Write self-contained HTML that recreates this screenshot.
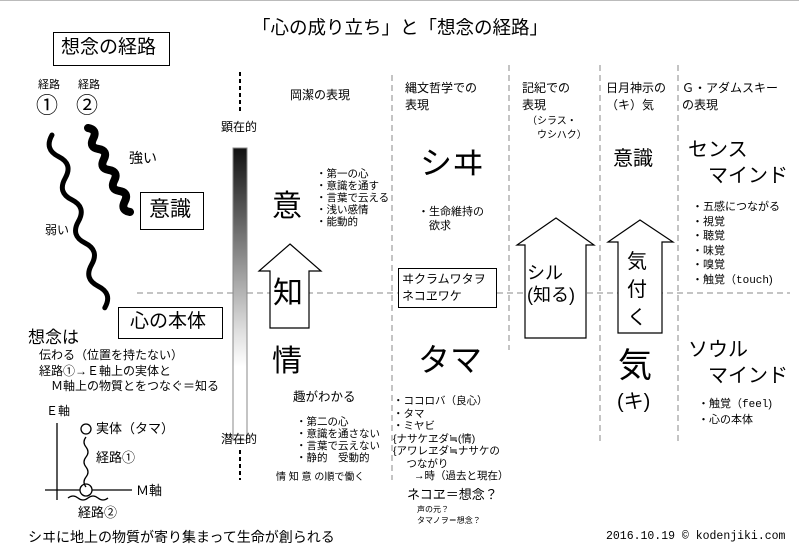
<!DOCTYPE html>
<html><head><meta charset="utf-8"><style>
body{margin:0;width:799px;height:557px;background:#fff;position:relative;overflow:hidden;font-family:"Liberation Sans","Noto Sans CJK JP",sans-serif;color:#000}
.t{position:absolute;white-space:nowrap;line-height:1.25}
.box{position:absolute;border:1px solid #000;background:#fff}
.m{font-family:"Liberation Mono","Noto Sans CJK JP",monospace}
</style></head><body>
<svg width="799" height="557" style="position:absolute;left:0;top:0">
<line x1="0" y1="0.5" x2="799" y2="0.5" stroke="#bbb"/>
<defs><linearGradient id="g" x1="0" y1="0" x2="0" y2="1"><stop offset="0" stop-color="#111"/><stop offset="0.62" stop-color="#ddd"/><stop offset="0.75" stop-color="#fff"/><stop offset="1" stop-color="#fff"/></linearGradient></defs>
<g stroke="#888" stroke-dasharray="6,4" stroke-width="1">
<line x1="137" y1="293" x2="790" y2="293"/>
<line x1="392" y1="75" x2="392" y2="480"/>
<line x1="509" y1="65" x2="509" y2="350"/>
<line x1="600" y1="65" x2="600" y2="445"/>
<line x1="678" y1="65" x2="678" y2="445"/>
</g>
<g stroke="#000" stroke-width="2" stroke-dasharray="4,3"><line x1="240" y1="72" x2="240" y2="112"/><line x1="240" y1="450" x2="240" y2="480"/></g>
<rect x="233" y="148" width="14" height="292" fill="url(#g)" stroke="#888"/>
<path d="M52,135 Q43.9,149.3 58.6,156.6 T65.2,178.2 T71.8,199.8 T78.4,221.4 T85,243 T91.6,264.6 T98.2,286.2 T104.8,307.8" fill="none" stroke="#000" stroke-width="5" stroke-linecap="round"/>
<path d="M88,128 Q97.7,129.7 93.25,138.5 T98.5,149 T103.75,159.5 T109,170 T114.25,180.5 T119.5,191 T124.75,201.5 T130,212" fill="none" stroke="#000" stroke-width="8" stroke-linecap="round"/>
<g fill="#fff" stroke="#000" stroke-width="1.2">
<polygon points="290,244 321,271 309,271 309,328 270,328 270,271 259,271"/>
<polygon points="556,218 594,245 586,245 586,338 525,338 525,245 517,245"/>
<polygon points="640,220 673,242 662,242 662,333 618,333 618,242 608,242"/>
</g>
<g stroke="#000" stroke-width="1.3" fill="none">
<line x1="57" y1="423" x2="57" y2="500"/>
<line x1="45" y1="490" x2="132" y2="490"/>
<circle cx="86" cy="490" r="6" fill="#fff"/>
<circle cx="86" cy="429" r="5" fill="#fff"/>
<path d="M86,437 q-4,5 0,10 t0,10 t0,10 t0,10 t0,10"/>
<path d="M68,498 q5,-4 10,0 t10,0 t10,0 t10,0"/>
</g>
</svg>
<div class="t" style="left:252px;top:16px;font-size:18.5px">「心の成り立ち」と「想念の経路」</div>
<div class="box" style="left:53px;top:32px;width:115px;height:32px"></div>
<div class="t" style="left:61px;top:36px;font-size:19px">想念の経路</div>
<div class="t" style="left:38px;top:79px;font-size:11px">経路</div>
<div class="t" style="left:78px;top:79px;font-size:11px">経路</div>
<div class="t" style="left:36px;top:92px;font-size:22px">①</div>
<div class="t" style="left:76px;top:92px;font-size:22px">②</div>
<div class="t" style="left:129px;top:150px;font-size:14px">強い</div>
<div class="t" style="left:45px;top:223px;font-size:12px">弱い</div>
<div class="box" style="left:140px;top:192px;width:62px;height:36px"></div>
<div class="t" style="left:149px;top:197px;font-size:21px">意識</div>
<div class="box" style="left:118px;top:307px;width:103px;height:30px"></div>
<div class="t" style="left:130px;top:310px;font-size:19px">心の本体</div>
<div class="t" style="left:28px;top:327px;font-size:17px">想念は</div>
<div class="t" style="left:39px;top:348px;font-size:12px">伝わる（位置を持たない）</div>
<div class="t" style="left:39px;top:364px;font-size:12px">経路①→Ｅ軸上の実体と</div>
<div class="t" style="left:51px;top:379px;font-size:12px">Ｍ軸上の物質とをつなぐ＝知る</div>
<div class="t" style="left:46px;top:404px;font-size:12px">Ｅ軸</div>
<div class="t" style="left:96px;top:421px;font-size:13px">実体（タマ）</div>
<div class="t" style="left:96px;top:450px;font-size:13px">経路①</div>
<div class="t" style="left:136px;top:483px;font-size:13px">Ｍ軸</div>
<div class="t" style="left:78px;top:505px;font-size:13px">経路②</div>
<div class="t" style="left:28px;top:529px;font-size:14px">シヰに地上の物質が寄り集まって生命が創られる</div>
<div class="t" style="left:221px;top:120px;font-size:12px">顕在的</div>
<div class="t" style="left:221px;top:432px;font-size:12px">潜在的</div>
<div class="t" style="left:290px;top:88px;font-size:12px">岡潔の表現</div>
<div class="t" style="left:272px;top:188px;font-size:30px">意</div>
<div class="t" style="left:316px;top:168px;font-size:10.5px;line-height:12px">・第一の心<br>・意識を通す<br>・言葉で云える<br>・浅い感情<br>・能動的</div>
<div class="t" style="left:273px;top:275px;font-size:30px">知</div>
<div class="t" style="left:272px;top:343px;font-size:30px">情</div>
<div class="t" style="left:293px;top:390px;font-size:12.5px">趣がわかる</div>
<div class="t" style="left:296px;top:416px;font-size:10.5px;line-height:12px">・第二の心<br>・意識を通さない<br>・言葉で云えない<br>・静的　受動的</div>
<div class="t" style="left:276px;top:472px;font-size:10px">情 知 意 の順で働く</div>
<div class="t" style="left:405px;top:80px;font-size:12px;line-height:17px">縄文哲学での<br>表現</div>
<div class="t" style="left:420px;top:143px;font-size:32px">シヰ</div>
<div class="t" style="left:418px;top:205px;font-size:11px;line-height:14px">・生命維持の<br>　欲求</div>
<div class="box" style="left:398px;top:268px;width:97px;height:38px"></div>
<div class="t" style="left:402px;top:271px;font-size:12px;line-height:17px">ヰクラムワタヲ<br>ネコヱワケ</div>
<div class="t" style="left:418px;top:340px;font-size:32px">タマ</div>
<div class="t" style="left:393px;top:395px;font-size:10.5px;line-height:12.5px">・ココロバ（良心）<br>・タマ<br>・ミヤビ<br>{ナサケヱダ≒(情)<br>{アワレヱダ≒ナサケの<br>　 つながり<br>　　→時（過去と現在）</div>
<div class="t" style="left:407px;top:487px;font-size:13px">ネコヱ＝想念？</div>
<div class="t" style="left:417px;top:504px;font-size:8px;line-height:11px">声の元？<br>タマノヲ＝想念？</div>
<div class="t" style="left:522px;top:80px;font-size:12px;line-height:17px">記紀での<br>表現</div>
<div class="t" style="left:527px;top:115px;font-size:10px;line-height:14px">（シラス・<br>　ウシハク）</div>
<div class="t" style="left:527px;top:262px;font-size:18px;line-height:22px">シル<br>(知る)</div>
<div class="t" style="left:606px;top:80px;font-size:12px;line-height:17px">日月神示の<br>（キ）気</div>
<div class="t" style="left:613px;top:147px;font-size:20px">意識</div>
<div class="t" style="left:627px;top:248px;font-size:20px;line-height:28px">気<br>付<br>く</div>
<div class="t" style="left:618px;top:345px;font-size:34px">気</div>
<div class="t" style="left:617px;top:390px;font-size:20px">(キ)</div>
<div class="t" style="left:682px;top:80px;font-size:12px;line-height:17px">Ｇ・アダムスキー<br>の表現</div>
<div class="t" style="left:688px;top:138px;font-size:20px">センス</div>
<div class="t" style="left:708px;top:164px;font-size:20px">マインド</div>
<div class="t" style="left:692px;top:200px;font-size:11px;line-height:14.5px">・五感につながる<br>・視覚<br>・聴覚<br>・味覚<br>・嗅覚<br>・触覚（<span class="m">touch</span>)</div>
<div class="t" style="left:688px;top:338px;font-size:20px">ソウル</div>
<div class="t" style="left:708px;top:364px;font-size:20px">マインド</div>
<div class="t" style="left:698px;top:397px;font-size:11px;line-height:14.5px">・触覚（<span class="m">feel</span>)<br>・心の本体</div>
<div class="t m" style="left:606px;top:530px;font-size:11.5px">2016.10.19 © kodenjiki.com</div>
</body></html>
